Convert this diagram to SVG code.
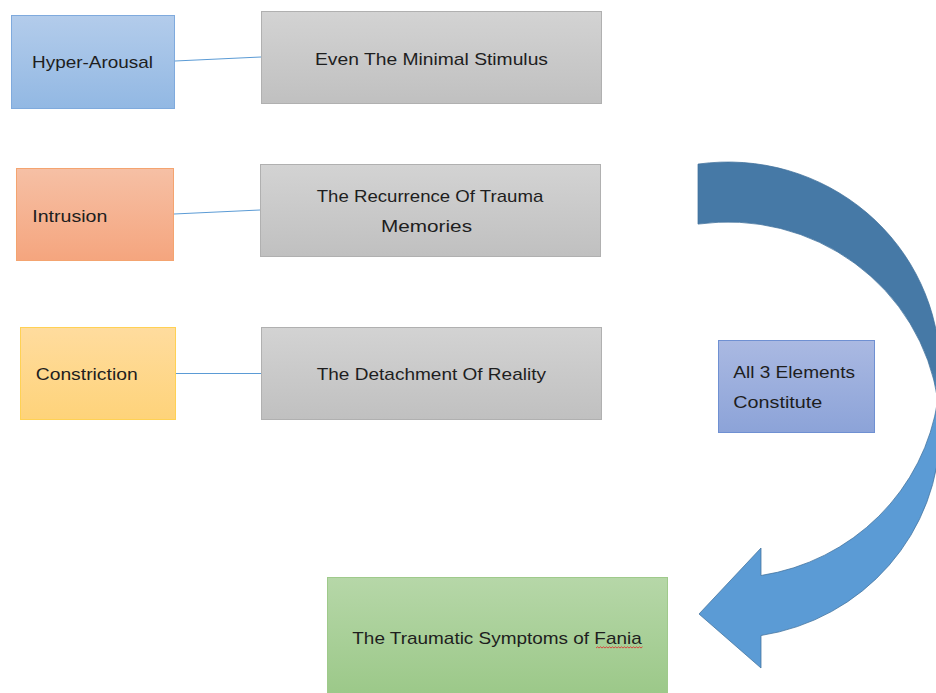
<svg xmlns="http://www.w3.org/2000/svg" width="936" height="693" viewBox="0 0 936 693">
  <defs>
    <linearGradient id="gBlue" x1="0" y1="0" x2="0" y2="1">
      <stop offset="0" stop-color="#B3CCEB"/>
      <stop offset="1" stop-color="#92B8E3"/>
    </linearGradient>
    <linearGradient id="gOrange" x1="0" y1="0" x2="0" y2="1">
      <stop offset="0" stop-color="#F6C0A5"/>
      <stop offset="1" stop-color="#F5A57E"/>
    </linearGradient>
    <linearGradient id="gYellow" x1="0" y1="0" x2="0" y2="1">
      <stop offset="0" stop-color="#FFDC9E"/>
      <stop offset="1" stop-color="#FED37A"/>
    </linearGradient>
    <linearGradient id="gGray" x1="0" y1="0" x2="0" y2="1">
      <stop offset="0" stop-color="#D3D3D3"/>
      <stop offset="1" stop-color="#C0C0C0"/>
    </linearGradient>
    <linearGradient id="gPurple" x1="0" y1="0" x2="0" y2="1">
      <stop offset="0" stop-color="#AAB9E2"/>
      <stop offset="1" stop-color="#8CA3D8"/>
    </linearGradient>
    <linearGradient id="gGreen" x1="0" y1="0" x2="0" y2="1">
      <stop offset="0" stop-color="#B6D7A8"/>
      <stop offset="1" stop-color="#9BC888"/>
    </linearGradient>
    <linearGradient id="gArrow" gradientUnits="userSpaceOnUse" x1="0" y1="160" x2="0" y2="670">
      <stop offset="0" stop-color="#4679A6"/>
      <stop offset="0.41" stop-color="#4679A6"/>
      <stop offset="0.50" stop-color="#5B9BD5"/>
      <stop offset="1" stop-color="#5B9BD5"/>
    </linearGradient>
  </defs>
  <style>
    .box { stroke-width: 1; }
    .lbl { font-family: "Liberation Sans", Arial, sans-serif; font-size: 17px; fill: #1E1E1E; }
    .conn { stroke: #5B9BD5; stroke-width: 1; fill: none; }
  </style>

  <rect width="936" height="693" fill="#FFFFFF"/>

  <g id="curved-arrow">
    <path d="M698,164.1 A212,208 0 0 1 940,370 L940,430 A212,208 0 0 1 761,635.5 L761,668 L699,614 L761,548 L761,575.5 A212,208 0 0 0 937.8,400 A212,208 0 0 0 698,224.1 Z" fill="url(#gArrow)" stroke="#41719C" stroke-width="0.75"/>
  </g>

  <g id="connectors">
    <line class="conn" x1="175" y1="61" x2="261" y2="57"/>
    <line class="conn" x1="174" y1="214" x2="260" y2="210"/>
    <line class="conn" x1="176" y1="373.5" x2="261" y2="373.5"/>
  </g>

  <g id="hyper-arousal">
    <rect class="box" x="11.5" y="15.5" width="163" height="93" fill="url(#gBlue)" stroke="#7FAADD"/>
    <text class="lbl" x="32" y="68" textLength="121" lengthAdjust="spacingAndGlyphs">Hyper-Arousal</text>
  </g>

  <g id="minimal-stimulus">
    <rect class="box" x="261.5" y="11.5" width="340" height="92" fill="url(#gGray)" stroke="#B0B0B0"/>
    <text class="lbl" x="315" y="65" textLength="233" lengthAdjust="spacingAndGlyphs">Even The Minimal Stimulus</text>
  </g>

  <g id="intrusion">
    <rect class="box" x="16.5" y="168.5" width="157" height="92" fill="url(#gOrange)" stroke="#F4A470"/>
    <text class="lbl" x="32.3" y="221.7" textLength="75" lengthAdjust="spacingAndGlyphs">Intrusion</text>
  </g>

  <g id="recurrence">
    <rect class="box" x="260.5" y="164.5" width="340" height="92" fill="url(#gGray)" stroke="#B0B0B0"/>
    <text class="lbl" x="316.7" y="201.7" textLength="226.6" lengthAdjust="spacingAndGlyphs">The Recurrence Of Trauma</text>
    <text class="lbl" x="381" y="232.3" textLength="91" lengthAdjust="spacingAndGlyphs">Memories</text>
  </g>

  <g id="constriction">
    <rect class="box" x="20.5" y="327.5" width="155" height="92" fill="url(#gYellow)" stroke="#FFD154"/>
    <text class="lbl" x="35.7" y="380" textLength="102" lengthAdjust="spacingAndGlyphs">Constriction</text>
  </g>

  <g id="detachment">
    <rect class="box" x="261.5" y="327.5" width="340" height="92" fill="url(#gGray)" stroke="#B0B0B0"/>
    <text class="lbl" x="316.7" y="380" textLength="229.3" lengthAdjust="spacingAndGlyphs">The Detachment Of Reality</text>
  </g>

  <g id="all-elements">
    <rect class="box" x="718.5" y="340.5" width="156" height="92" fill="url(#gPurple)" stroke="#6F90D2"/>
    <text class="lbl" x="733.3" y="378" textLength="121.7" lengthAdjust="spacingAndGlyphs">All 3 Elements</text>
    <text class="lbl" x="733.3" y="408.3" textLength="89" lengthAdjust="spacingAndGlyphs">Constitute</text>
  </g>

  <g id="traumatic-symptoms">
    <rect class="box" x="327.5" y="577.5" width="340" height="120" fill="url(#gGreen)" stroke="#9FCA8B"/>
    <text class="lbl" x="352.3" y="644" textLength="289.4" lengthAdjust="spacingAndGlyphs">The Traumatic Symptoms of Fania</text>
    <polyline points="596,648 597.5,646.8 599,648 600.5,646.8 602,648 603.5,646.8 605,648 606.5,646.8 608,648 609.5,646.8 611,648 612.5,646.8 614,648 615.5,646.8 617,648 618.5,646.8 620,648 621.5,646.8 623,648 624.5,646.8 626,648 627.5,646.8 629,648 630.5,646.8 632,648 633.5,646.8 635,648 636.5,646.8 638,648 639.5,646.8 641,648 642.5,646.8" fill="none" stroke="#E3262B" stroke-width="0.8"/>
  </g>
</svg>
